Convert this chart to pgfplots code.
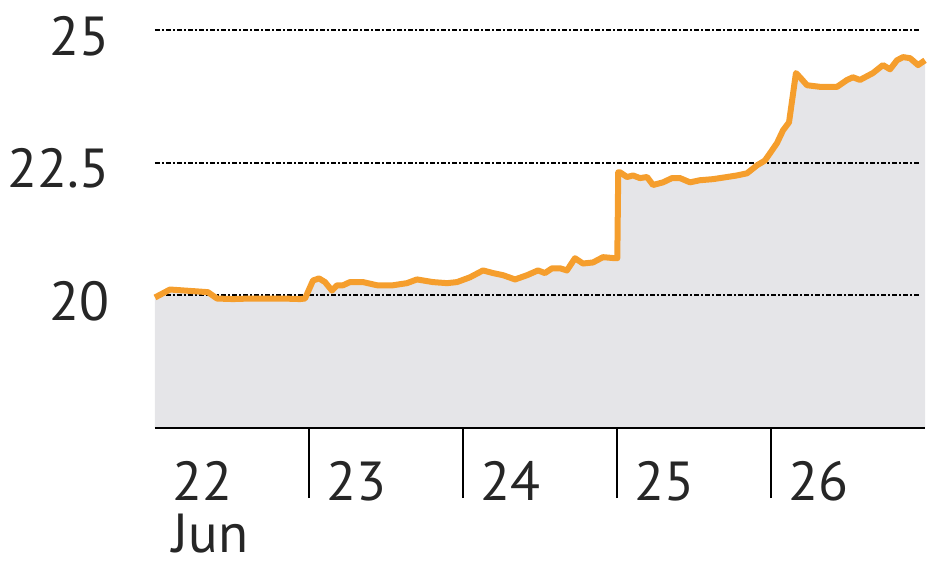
\documentclass[border=0pt]{standalone}
\usepackage{fontspec}
\setmainfont{PT Sans}
\usepackage{pgfplots}
\pgfplotsset{compat=1.18}
\definecolor{lineorange}{RGB}{245,158,45}
\definecolor{areagrey}{RGB}{229,229,232}
\newcommand\lbl{\fontsize{27.5}{32}\selectfont}

\pgfplotstableread{
x y
0.000 19.96
0.097 20.11
0.247 20.08
0.344 20.06
0.403 19.94
0.506 19.93
0.617 19.94
0.727 19.94
0.831 19.94
0.942 19.93
0.974 19.94
1.026 20.28
1.065 20.32
1.104 20.25
1.149 20.09
1.182 20.19
1.221 20.19
1.266 20.25
1.351 20.25
1.442 20.19
1.545 20.19
1.636 20.23
1.701 20.30
1.805 20.25
1.896 20.23
1.961 20.25
2.045 20.34
2.130 20.47
2.195 20.42
2.260 20.38
2.338 20.30
2.416 20.38
2.487 20.47
2.532 20.42
2.578 20.51
2.630 20.51
2.675 20.47
2.727 20.70
2.779 20.60
2.844 20.62
2.909 20.72
2.987 20.70
3.002 20.70
3.008 22.32
3.019 22.32
3.065 22.23
3.104 22.26
3.149 22.21
3.195 22.23
3.234 22.08
3.299 22.13
3.357 22.21
3.409 22.21
3.474 22.13
3.539 22.17
3.623 22.19
3.714 22.23
3.779 22.26
3.844 22.30
3.909 22.45
3.960 22.54
3.994 22.68
4.039 22.87
4.078 23.11
4.117 23.26
4.162 24.19
4.188 24.11
4.234 23.96
4.318 23.93
4.429 23.93
4.494 24.06
4.532 24.11
4.578 24.06
4.662 24.19
4.727 24.34
4.773 24.26
4.818 24.43
4.857 24.49
4.903 24.47
4.955 24.34
5.000 24.43
}\pricedata

\begin{document}
\begin{tikzpicture}
\useasboundingbox (-77.5pt,-71pt) rectangle (392.5pt,214pt);
\begin{axis}[
  scale only axis, width=385pt, height=212.25pt,
  xmin=0, xmax=5, ymin=17.5, ymax=25.5,
  axis on top,
  axis lines*=left,
  y axis line style={draw=none},
  x axis line style={line width=1.2pt, black},
  every tick label/.append style={font=\lbl, text=black!85},
  ytick={20,22.5,25}, yticklabels={20,22.5,25},
  ytick style={draw=none},
  yticklabel style={anchor=east, inner sep=0pt, xshift=-22.5pt, yshift=-3pt},
  xtick={1,2,3,4}, xticklabels={23,24,25,26},
  major tick length=35pt,
  xtick style={draw=black, line width=1.2pt, yshift=-35pt},
  xticklabel style={anchor=base west, inner sep=0pt, xshift=8.5pt, yshift=-36pt},
  clip=false,
]
\addplot[fill=areagrey, draw=none] table[x=x,y=y]{\pricedata} \closedcycle;
\foreach \g in {20,22.5,25}{
  \edef\tmp{\noexpand\addplot[black, line width=1pt,
    dash pattern=on 2.5pt off 1pt on 1pt off 1pt] coordinates {(0,\g) (4.97,\g)};}
  \tmp
}
\addplot[lineorange, line width=3pt, line join=round] table[x=x,y=y]{\pricedata};
\node[anchor=base west, inner sep=0pt, font=\lbl, text=black!85]
  at (axis cs:0,17.5) [xshift=8.5pt, yshift=-36pt] {22};
\node[anchor=base west, inner sep=0pt, font=\lbl, text=black!85]
  at (axis cs:0,17.5) [xshift=8.5pt, yshift=-62pt] {Jun};
\end{axis}
\end{tikzpicture}
\end{document}
